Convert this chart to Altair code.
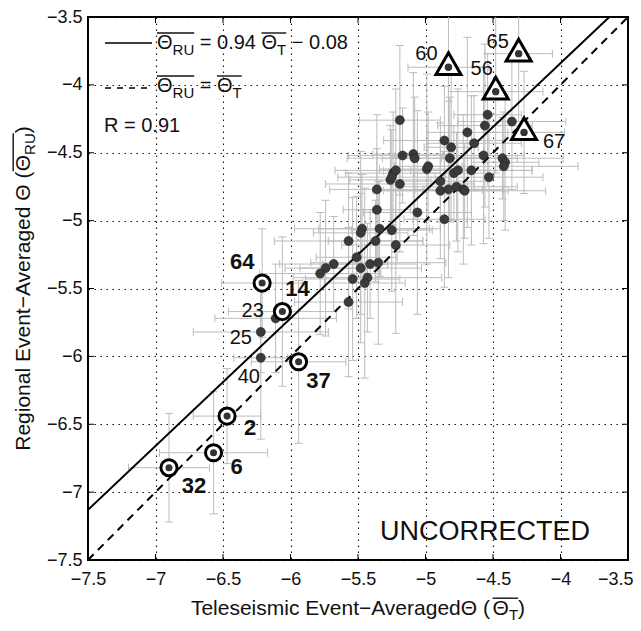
import altair as alt
import pandas as pd

FONT = "Liberation Sans"
XMIN, XMAX, YMIN, YMAX = -7.5, -3.5, -7.5, -3.5
W_PLOT, H_PLOT = 540, 543
tick_values = [-7.5, -7, -6.5, -6, -5.5, -5, -4.5, -4, -3.5]

# ---------------- data ----------------
tele = [-5.19, -4.54, -4.56, -4.36, -4.69, -4.86, -4.81, -4.64, -4.82, -4.57,
        -4.43, -4.41, -4.42, -5.17, -5.09, -5.08, -4.99, -4.98, -4.66, -4.79,
        -4.76, -4.53, -4.89, -4.89, -4.83, -4.77, -4.72, -4.71, -5.24, -5.22,
        -5.26, -5.25, -5.19, -5.36, -5.36, -5.06, -4.86, -5.47, -5.48, -5.34,
        -5.25, -5.57, -5.37, -5.22, -5.51, -5.48, -5.41, -5.35, -5.68, -5.74,
        -5.78, -5.54, -5.43, -5.45, -5.57, -6.11, -6.22, -6.22,
        -6.21, -6.06, -5.94, -6.47, -6.57, -6.90,
        -4.83, -4.31, -4.48, -4.27]
regional = [-4.26, -4.22, -4.30, -4.27, -4.35, -4.41, -4.46, -4.43, -4.54, -4.52,
            -4.54, -4.57, -4.60, -4.52, -4.51, -4.54, -4.62, -4.60, -4.63, -4.65,
            -4.63, -4.68, -4.71, -4.78, -4.77, -4.75, -4.77, -4.78, -4.65, -4.63,
            -4.70, -4.68, -4.73, -4.77, -4.92, -4.94, -4.99, -5.06, -5.09, -5.06,
            -5.07, -5.15, -5.15, -5.18, -5.27, -5.35, -5.32, -5.31, -5.32, -5.35,
            -5.39, -5.43, -5.42, -5.46, -5.60, -5.72, -5.82, -6.01,
            -5.46, -5.67, -6.04, -6.44, -6.71, -6.82,
            -3.87, -3.77, -4.05, -4.35]
tele_err = [0.30, 0.25, 0.35, 0.40, 0.30, 0.45, 0.20, 0.35, 0.50, 0.30,
            0.45, 0.25, 0.55, 0.40, 0.30, 0.50, 0.35, 0.25, 0.45, 0.30,
            0.55, 0.40, 0.35, 0.50, 0.25, 0.45, 0.30, 0.60, 0.35, 0.45,
            0.30, 0.40, 0.55, 0.35, 0.25, 0.40, 0.30, 0.50, 0.35, 0.45,
            0.30, 0.55, 0.35, 0.40, 0.30, 0.45, 0.35, 0.50, 0.40, 0.30,
            0.45, 0.35, 0.55, 0.30, 0.40, 0.45, 0.50, 0.20,
            0.30, 0.40, 0.35, 0.25, 0.40, 0.30,
            0.30, 0.25, 0.35, 0.30]
regional_err = [0.55, 0.45, 0.60, 0.50, 0.70, 0.40, 0.55, 0.35, 0.45, 0.65,
                0.30, 0.50, 0.40, 0.35, 0.60, 0.45, 0.70, 0.40, 0.55, 0.35,
                0.60, 0.45, 0.30, 0.50, 0.65, 0.40, 0.55, 0.35, 0.45, 0.60,
                0.40, 0.35, 0.50, 0.55, 0.45, 0.75, 0.50, 0.40, 0.60, 0.35,
                0.45, 0.50, 0.30, 0.65, 0.45, 0.55, 0.40, 0.60, 0.35, 0.50,
                0.45, 0.60, 0.40, 0.70, 0.55, 0.40, 0.30, 0.60,
                0.40, 0.55, 0.60, 0.35, 0.45, 0.40,
                0.65, 0.50, 0.60, 0.45]
kind = ["dot"] * 58 + ["ring"] * 6 + ["tri"] * 4
labels = [""] * 55 + ["23", "25", "40"] + ["64", "14", "37", "2", "6", "32"] + ["60", "65", "56", "67"]

fit_slope, fit_intercept = 0.94, -0.08
r_value = 0.91
panel_note = "UNCORRECTED"

# ---------------- layout helpers ----------------
PXU = W_PLOT / (XMAX - XMIN)
PYU = H_PLOT / (YMAX - YMIN)


def X(px):
    return XMIN + px / PXU


def Y(py):
    return YMAX - py / PYU


LABEL_OFFSET = {"23": (-23, -7), "25": (-20, 6), "40": (-12, 19),
                "64": (-20, -21), "14": (15, -23), "37": (20, 19), "2": (23, 12),
                "6": (23, 14), "32": (25, 18),
                "60": (-22, -13), "65": (-21, -12), "56": (-14, -23), "67": (30, 10)}
BOLD = {"64", "14", "37", "2", "6", "32"}

Wd = {' ': 278, '(': 333, ')': 333, '−': 584, '=': 584, '.': 278, 'A': 667, 'E': 667,
      'R': 722, 'T': 611, 'U': 722, 'Θ': 778, 'a': 556, 'c': 500, 'd': 556, 'e': 556,
      'g': 556, 'i': 222, 'l': 222, 'm': 833, 'n': 556, 'o': 556, 'r': 333, 's': 500,
      't': 278, 'v': 500, 'C': 722, 'O': 778, 'N': 722, 'D': 722}


def tw(s, size):
    return sum(Wd.get(c, 556) for c in s) * size / 1000.0


texts, bars = [], []
GAP = None  # a part whose text is GAP only advances the pen


def part_width(p):
    text, size = p[0], p[1]
    return size * 0.278 if text is GAP else tw(text, size)


def compose(x0, y0, parts, vertical=False):
    u = 0.0
    groups = {}
    for p in parts:
        text, size, shift, grp = p
        w = part_width(p)
        if text is not GAP:
            if vertical:
                texts.append(dict(x=X(x0 + shift), y=Y(y0 - u), text=text, size=size, angle=270))
            else:
                texts.append(dict(x=X(x0 + u), y=Y(y0 + shift), text=text, size=size, angle=0))
        if grp is not None:
            g = groups.setdefault(grp, [u, u + w, size])
            g[0] = min(g[0], u)
            g[1] = max(g[1], u + w)
        u += w
    for g0, g1, size in groups.values():
        off = -0.8 * size
        if vertical:
            bars.append(dict(x=X(x0 + off), y=Y(y0 - g0), x2=X(x0 + off), y2=Y(y0 - g1)))
        else:
            bars.append(dict(x=X(x0 + g0), y=Y(y0 + off), x2=X(x0 + g1), y2=Y(y0 + off)))
    return u


def width_of(parts):
    return sum(part_width(p) for p in parts)


xt = [("Teleseismic Event−AveragedΘ (", 21, 0, None), ("Θ", 21, 0, "a"), ("T", 15, 5, "a"), (")", 21, 0, None)]
yt = [("Regional Event−Averaged Θ (", 21, 0, None), ("Θ", 21, 0, "a"), ("RU", 15, 5, "a"), (")", 21, 0, None)]
compose(W_PLOT / 2 - width_of(xt) / 2, 598, xt)
compose(-58, H_PLOT / 2 + width_of(yt) / 2, yt, vertical=True)

leg1 = [("Θ", 20, 0, "a"), ("RU", 15, 6, "a"), (GAP, 20, 0, None), (f"= {fit_slope:.2f}", 20, 0, None),
        (GAP, 20, 0, None), ("Θ", 20, 0, "b"), ("T", 15, 6, "b"), (GAP, 20, 0, None),
        (f"− {abs(fit_intercept):.2f}", 20, 0, None)]
leg2 = [("Θ", 20, 0, "a"), ("RU", 15, 6, "a"), (GAP, 20, 0, None), ("=", 20, 0, None),
        (GAP, 20, 0, None), ("Θ", 20, 0, "b"), ("T", 15, 6, "b")]
compose(69, 32, leg1)
compose(69, 75, leg2)
compose(16, 115, [(f"R = {r_value:.2f}", 20, 0, None)])
compose(397 - tw(panel_note, 27) / 2, 523, [(panel_note, 27, 0, None)])

texts_df = pd.DataFrame(texts)
bars_df = pd.DataFrame(bars)
samples_df = pd.DataFrame([dict(x=X(17), x2=X(64), y=Y(26), style="solid"),
                           dict(x=X(17), x2=X(64), y=Y(71), style="dash")])

# ---------------- data frames ----------------
df = pd.DataFrame(dict(x=tele, y=regional, xerr=tele_err, yerr=regional_err, kind=kind, label=labels))
df["xlo"] = df.x - df.xerr
df["xhi"] = df.x + df.xerr
df["ylo"] = df.y - df.yerr
df["yhi"] = df.y + df.yerr

hcaps = pd.concat([pd.DataFrame(dict(xc=df.xlo, y=df.y)), pd.DataFrame(dict(xc=df.xhi, y=df.y))])
vcaps = pd.concat([pd.DataFrame(dict(x=df.x, yc=df.ylo)), pd.DataFrame(dict(x=df.x, yc=df.yhi))])

lab = df[df.label != ""].copy()
lab["lx"] = [X((xx - XMIN) * PXU + LABEL_OFFSET[l][0]) for xx, l in zip(lab.x, lab.label)]
lab["ly"] = [Y((YMAX - yy) * PYU + LABEL_OFFSET[l][1]) for yy, l in zip(lab.y, lab.label)]
lab["bold"] = lab.label.isin(BOLD)

fit_df = pd.DataFrame(dict(x=[XMIN, XMAX], y=[fit_slope * XMIN + fit_intercept, fit_slope * XMAX + fit_intercept]))
one_df = pd.DataFrame(dict(x=[XMIN, XMAX], y=[XMIN, XMAX]))
ticks_df = pd.DataFrame(dict(v=tick_values))

xs = alt.Scale(domain=[XMIN, XMAX], nice=False, zero=False)
ys = alt.Scale(domain=[YMIN, YMAX], nice=False, zero=False)

common_axis = dict(values=tick_values, format="~g", title=None, grid=True, gridDash=[1.5, 4.5],
                   gridColor="#111", gridWidth=1.1, ticks=False, domain=False, labelFont=FONT,
                   labelFontSize=18, labelColor="#111", labelFlush=False, labelOverlap=False)
xax = alt.Axis(labelPadding=10,
               labelAlign={"condition": {"test": "datum.value == -3.5", "value": "right"}, "value": "center"},
               labelOffset={"condition": {"test": "datum.value == -3.5", "value": 5}, "value": 0},
               **common_axis)
yax = alt.Axis(labelPadding=6, **common_axis)

EB = "#bcbcbc"
base = alt.Chart(df)

hbar = base.mark_rule(color=EB, strokeWidth=1, clip=True).encode(
    x=alt.X("xlo:Q", scale=xs, axis=xax), x2="xhi:Q", y=alt.Y("y:Q", scale=ys, axis=yax))
vbar = base.mark_rule(color=EB, strokeWidth=1, clip=True).encode(
    x=alt.X("x:Q", scale=xs), y=alt.Y("ylo:Q", scale=ys), y2="yhi:Q")
hcap = alt.Chart(hcaps).mark_tick(orient="vertical", size=8, thickness=1, color=EB, clip=True, opacity=1).encode(
    x=alt.X("xc:Q", scale=xs), y=alt.Y("y:Q", scale=ys))
vcap = alt.Chart(vcaps).mark_tick(orient="horizontal", size=8, thickness=1, color=EB, clip=True, opacity=1).encode(
    x=alt.X("x:Q", scale=xs), y=alt.Y("yc:Q", scale=ys))

fit_line = alt.Chart(fit_df).mark_line(color="black", strokeWidth=2, clip=True).encode(
    x=alt.X("x:Q", scale=xs), y=alt.Y("y:Q", scale=ys))
one_line = alt.Chart(one_df).mark_line(color="black", strokeWidth=2, strokeDash=[8, 6], clip=True).encode(
    x=alt.X("x:Q", scale=xs), y=alt.Y("y:Q", scale=ys))

pos = dict(x=alt.X("x:Q", scale=xs), y=alt.Y("y:Q", scale=ys))
dots = alt.Chart(df[df.kind == "dot"]).mark_point(
    filled=True, shape="circle", size=82, color="#3a3a3a", stroke="#222", strokeWidth=0.6, opacity=1).encode(**pos)

rings_df = df[df.kind == "ring"]
ring_bg = alt.Chart(rings_df).mark_point(filled=True, shape="circle", size=280, color="white", opacity=1).encode(**pos)
ring = alt.Chart(rings_df).mark_point(filled=False, shape="circle", size=260, color="black", strokeWidth=3, opacity=1).encode(**pos)
ring_dot = alt.Chart(rings_df).mark_point(filled=True, shape="circle", size=50, color="#333", opacity=1).encode(**pos)

tri_df = df[df.kind == "tri"]
TRI = "M0,-1L0.866,0.5L-0.866,0.5Z"
tri = alt.Chart(tri_df).mark_point(filled=True, shape=TRI, size=835, fill="white", stroke="black",
                                   strokeWidth=3, opacity=1, fillOpacity=1, strokeJoin="miter").encode(**pos)
tri_dot = alt.Chart(tri_df).mark_point(filled=True, shape="circle", size=55, color="#333", opacity=1).encode(**pos)

lpos = dict(x=alt.X("lx:Q", scale=xs), y=alt.Y("ly:Q", scale=ys), text="label:N")
lab_reg = alt.Chart(lab[~lab.bold]).mark_text(font=FONT, fontSize=20, color="#111", align="center",
                                              baseline="middle").encode(**lpos)
lab_bold = alt.Chart(lab[lab.bold]).mark_text(font=FONT, fontSize=22, fontWeight="bold", color="#111",
                                              align="center", baseline="middle").encode(**lpos)

ann_text = alt.Chart(texts_df).mark_text(font=FONT, color="#111", align="left", baseline="alphabetic").encode(
    x=alt.X("x:Q", scale=xs), y=alt.Y("y:Q", scale=ys), text="text:N",
    size=alt.Size("size:Q", scale=None, legend=None), angle=alt.Angle("angle:Q", scale=None, legend=None))
ann_bars = alt.Chart(bars_df).mark_rule(color="#111", strokeWidth=1.4).encode(
    x=alt.X("x:Q", scale=xs), y=alt.Y("y:Q", scale=ys), x2="x2:Q", y2="y2:Q")
samp_solid = alt.Chart(samples_df[samples_df["style"] == "solid"]).mark_rule(color="black", strokeWidth=1.6).encode(
    x=alt.X("x:Q", scale=xs), x2="x2:Q", y=alt.Y("y:Q", scale=ys))
samp_dash = alt.Chart(samples_df[samples_df["style"] == "dash"]).mark_rule(color="black", strokeWidth=1.6,
                                                                            strokeDash=[6, 6]).encode(
    x=alt.X("x:Q", scale=xs), x2="x2:Q", y=alt.Y("y:Q", scale=ys))

tk = alt.Chart(ticks_df)
t_bottom = tk.mark_rule(color="black", strokeWidth=1).encode(x=alt.X("v:Q", scale=xs), y=alt.value(H_PLOT), y2=alt.value(H_PLOT - 6))
t_top = tk.mark_rule(color="black", strokeWidth=1).encode(x=alt.X("v:Q", scale=xs), y=alt.value(0), y2=alt.value(6))
t_left = tk.mark_rule(color="black", strokeWidth=1).encode(y=alt.Y("v:Q", scale=ys), x=alt.value(0), x2=alt.value(6))
t_right = tk.mark_rule(color="black", strokeWidth=1).encode(y=alt.Y("v:Q", scale=ys), x=alt.value(W_PLOT), x2=alt.value(W_PLOT - 6))

chart = alt.layer(
    hbar, vbar, hcap, vcap, fit_line, one_line, dots, ring_bg, ring, ring_dot, tri, tri_dot,
    lab_reg, lab_bold, ann_text, ann_bars, samp_solid, samp_dash, t_bottom, t_top, t_left, t_right
).properties(
    width=W_PLOT, height=H_PLOT, autosize=alt.AutoSizeParams(type="none"),
    padding={"left": 80, "top": 9, "right": 5, "bottom": 63}, background="white"
).configure_view(stroke="black", strokeWidth=2)

chart.save("out.html", embed_options={"renderer": "svg", "actions": False})
